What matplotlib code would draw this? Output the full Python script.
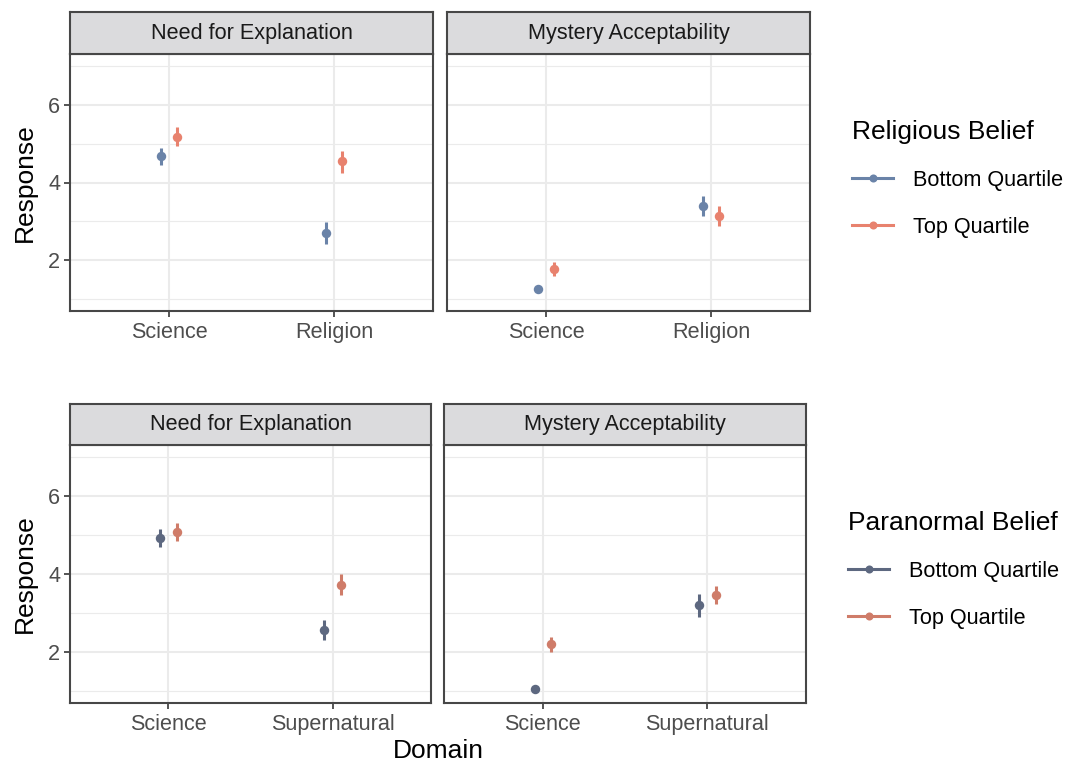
import matplotlib
matplotlib.use("Agg")
import matplotlib.pyplot as plt
from matplotlib.lines import Line2D
import numpy as np

plt.rcParams['font.family'] = ['Liberation Sans', 'DejaVu Sans']

# ---------------- data ----------------
measures = ["Need for Explanation", "Mystery Acceptability"]
groups = ["Bottom Quartile", "Top Quartile"]

# Row 1: Religious belief
rel_domains = ["Science", "Religion"]
rel_need_bottom = [4.67, 2.71]
rel_need_bottom_lo = [4.44, 2.43]
rel_need_bottom_hi = [4.89, 2.98]
rel_need_top = [5.18, 4.54]
rel_need_top_lo = [4.93, 4.25]
rel_need_top_hi = [5.42, 4.80]
rel_myst_bottom = [1.26, 3.40]
rel_myst_bottom_lo = [1.22, 3.15]
rel_myst_bottom_hi = [1.30, 3.65]
rel_myst_top = [1.78, 3.15]
rel_myst_top_lo = [1.61, 2.89]
rel_myst_top_hi = [1.95, 3.40]

# Row 2: Paranormal belief
par_domains = ["Science", "Supernatural"]
par_need_bottom = [4.92, 2.57]
par_need_bottom_lo = [4.69, 2.31]
par_need_bottom_hi = [5.14, 2.83]
par_need_top = [5.08, 3.73]
par_need_top_lo = [4.85, 3.47]
par_need_top_hi = [5.31, 3.99]
par_myst_bottom = [1.05, 3.20]
par_myst_bottom_lo = [1.02, 2.90]
par_myst_bottom_hi = [1.08, 3.49]
par_myst_top = [2.21, 3.47]
par_myst_top_lo = [2.00, 3.23]
par_myst_top_hi = [2.40, 3.70]

rel_colors = ["#6A83A8", "#E8826E"]
par_colors = ["#5D6880", "#CF7C69"]

y_ticks = [2, 4, 6]
y_minor = [1, 3, 5, 7]

# ---------------- figure ----------------
W, H = 1069, 763
fig = plt.figure(figsize=(W / 100, H / 100), dpi=100)

def fx(px):
    return px / W

def fy(py):
    return 1 - py / H

BORDER = "#474747"
GRID = "#EBEBEB"
TICKTXT = "#4D4D4D"
FS_TICK = 15.6
FS_TITLE = 19.0

def make_panel(x0, x1, y0, y1, strip_top, title, domains, series, colors, show_y):
    ax = fig.add_axes([fx(x0), fy(y1), fx(x1) - fx(x0), fy(y0) - fy(y1)])
    ax.set_xlim(0.4, 2.6)
    ax.set_ylim(0.7, 7.3)
    ax.set_facecolor("white")
    for v in y_minor:
        ax.axhline(v, color=GRID, lw=0.8, zorder=0)
    for v in y_ticks:
        ax.axhline(v, color=GRID, lw=1.5, zorder=0)
    for v in [1, 2]:
        ax.axvline(v, color=GRID, lw=1.5, zorder=0)
    offsets = [-0.05, 0.05]
    xs = np.arange(1, len(domains) + 1)
    for gi, (mid, lo, hi) in enumerate(series):
        xx = xs + offsets[gi]
        ax.vlines(xx, lo, hi, color=colors[gi], lw=2.2, zorder=3)
        ax.plot(xx, mid, 'o', color=colors[gi], ms=6.8, mew=0, zorder=4, ls='none')
    ax.set_xticks(xs)
    ax.set_xticklabels(domains, fontsize=FS_TICK, color=TICKTXT)
    ax.set_yticks(y_ticks)
    if show_y:
        ax.set_yticklabels([str(v) for v in y_ticks], fontsize=FS_TICK, color=TICKTXT)
        ax.tick_params(axis='y', length=4, width=1.3, color=BORDER, pad=3)
    else:
        ax.tick_params(axis='y', length=0, labelleft=False)
    ax.tick_params(axis='x', length=4, width=1.3, color=BORDER, pad=4)
    for s in ax.spines.values():
        s.set_color(BORDER)
        s.set_linewidth(1.5)
    # strip
    sax = fig.add_axes([fx(x0), fy(y0), fx(x1) - fx(x0), fy(strip_top) - fy(y0)])
    sax.set_facecolor("#DBDBDD")
    sax.set_xticks([])
    sax.set_yticks([])
    for s in sax.spines.values():
        s.set_color(BORDER)
        s.set_linewidth(1.5)
    sax.text(0.5, 0.5, title, ha='center', va='center', fontsize=FS_TICK,
             color="#1A1A1A", transform=sax.transAxes)
    return ax

# top row
make_panel(70, 433, 54, 311, 12, measures[0], rel_domains,
           [(rel_need_bottom, rel_need_bottom_lo, rel_need_bottom_hi),
            (rel_need_top, rel_need_top_lo, rel_need_top_hi)], rel_colors, True)
make_panel(447, 810, 54, 311, 12, measures[1], rel_domains,
           [(rel_myst_bottom, rel_myst_bottom_lo, rel_myst_bottom_hi),
            (rel_myst_top, rel_myst_top_lo, rel_myst_top_hi)], rel_colors, False)
# bottom row
make_panel(70, 431, 445, 703, 404, measures[0], par_domains,
           [(par_need_bottom, par_need_bottom_lo, par_need_bottom_hi),
            (par_need_top, par_need_top_lo, par_need_top_hi)], par_colors, True)
make_panel(444, 806, 445, 703, 404, measures[1], par_domains,
           [(par_myst_bottom, par_myst_bottom_lo, par_myst_bottom_hi),
            (par_myst_top, par_myst_top_lo, par_myst_top_hi)], par_colors, False)

# axis titles
fig.text(fx(25), fy(182.5), "Response", rotation=90, ha='center', va='center', fontsize=FS_TITLE)
fig.text(fx(25), fy(574), "Response", rotation=90, ha='center', va='center', fontsize=FS_TITLE)
fig.text(fx(438), fy(751), "Domain", ha='center', va='center', fontsize=FS_TITLE)

# legends
def make_legend(x, y, title, colors):
    handles = [Line2D([0], [0], color=c, lw=2.2, marker='o', ms=5.8, mew=0) for c in colors]
    leg = fig.legend(handles, groups, loc='upper left', bbox_to_anchor=(fx(x), fy(y)),
                     frameon=False, title=title, title_fontsize=FS_TITLE, fontsize=FS_TICK,
                     handlelength=1.9, handletextpad=0.92, labelspacing=1.2,
                     alignment='left', borderpad=0, borderaxespad=0)
    return leg

make_legend(852, 120, "Religious Belief", rel_colors)
make_legend(848, 511, "Paranormal Belief", par_colors)

fig.savefig("out.png", dpi=100)
